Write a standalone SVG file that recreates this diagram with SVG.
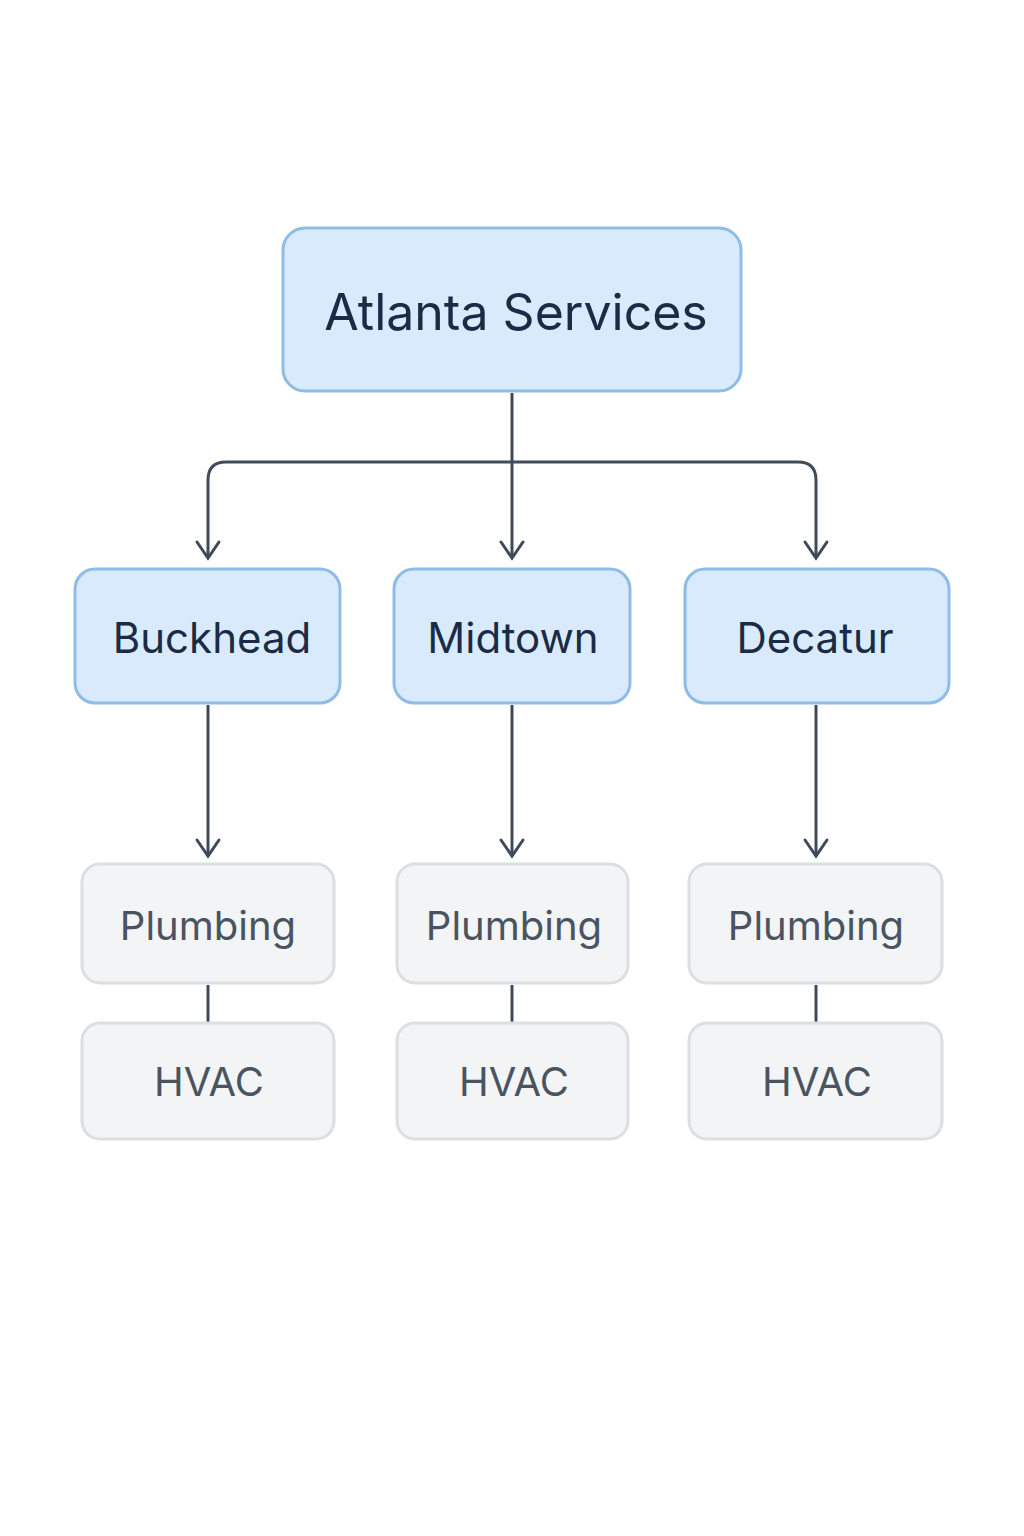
<svg xmlns="http://www.w3.org/2000/svg" width="1024" height="1536" viewBox="0 0 1024 1536">
<defs>
<marker id="ah" viewBox="0 0 24 16" refX="12" refY="14" markerWidth="24" markerHeight="16" markerUnits="userSpaceOnUse" orient="auto-start-reverse"><path d="M1 1 L12 14 L23 1" fill="none" stroke="#3f4b59" stroke-width="3" stroke-linecap="round" transform="rotate(-90 12 8)"/></marker>
<style>
.blue{fill:#d8eafb;stroke:#8dbde6;stroke-width:3}
.grey{fill:#f2f4f6;stroke:#dcdee2;stroke-width:3}
.t{font-family:Inter,"Noto Sans",sans-serif;text-anchor:middle;dominant-baseline:central}
.bt{fill:#1b2a45}
.gt{fill:#4a5360}
.c{fill:none;stroke:#3f4b59;stroke-width:3}
</style>
</defs>
<rect width="1024" height="1536" fill="#fff"/>
<g id="connectors">
<path class="c" d="M512 393 V558"/>
<path class="c" d="M512 462 H226 Q208 462 208 480 V558"/>
<path class="c" d="M512 462 H798 Q816 462 816 480 V558"/>
<path class="c" d="M208 705 V855"/>
<path class="c" d="M512 705 V855"/>
<path class="c" d="M816 705 V855"/>
<path class="c" d="M208 985 V1022"/>
<path class="c" d="M512 985 V1022"/>
<path class="c" d="M816 985 V1022"/>
<g fill="none" stroke="#3f4b59" stroke-width="3" stroke-linecap="round">
<path d="M197 542 L208 558 L219 542"/><path d="M501 542 L512 558 L523 542"/><path d="M805 542 L816 558 L827 542"/>
<path d="M197 840 L208 856 L219 840"/><path d="M501 840 L512 856 L523 840"/><path d="M805 840 L816 856 L827 840"/>
</g>
</g>
<g id="root"><rect class="blue" x="283" y="228" width="458" height="163" rx="22"/><text class="t bt" x="516" y="312" font-size="50">Atlanta Services</text></g>
<g id="buckhead"><rect class="blue" x="75" y="569" width="265" height="134" rx="20"/><text class="t bt" x="212" y="637" font-size="42">Buckhead</text></g>
<g id="midtown"><rect class="blue" x="394" y="569" width="236" height="134" rx="20"/><text class="t bt" x="513" y="637" font-size="42">Midtown</text></g>
<g id="decatur"><rect class="blue" x="685" y="569" width="264" height="134" rx="20"/><text class="t bt" x="815" y="637" font-size="42">Decatur</text></g>
<g id="p1"><rect class="grey" x="82" y="864" width="252" height="119" rx="18"/><text class="t gt" x="208" y="925" font-size="40">Plumbing</text></g>
<g id="p2"><rect class="grey" x="397" y="864" width="231" height="119" rx="18"/><text class="t gt" x="514" y="925" font-size="40">Plumbing</text></g>
<g id="p3"><rect class="grey" x="689" y="864" width="253" height="119" rx="18"/><text class="t gt" x="816" y="925" font-size="40">Plumbing</text></g>
<g id="h1"><rect class="grey" x="82" y="1023" width="252" height="116" rx="18"/><text class="t gt" x="209" y="1081" font-size="40">HVAC</text></g>
<g id="h2"><rect class="grey" x="397" y="1023" width="231" height="116" rx="18"/><text class="t gt" x="514" y="1081" font-size="40">HVAC</text></g>
<g id="h3"><rect class="grey" x="689" y="1023" width="253" height="116" rx="18"/><text class="t gt" x="817" y="1081" font-size="40">HVAC</text></g>
</svg>
